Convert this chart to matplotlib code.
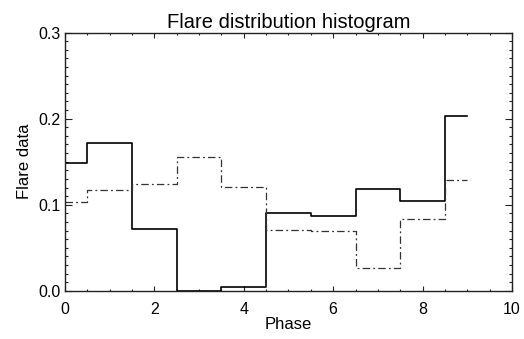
import numpy as np
import matplotlib
matplotlib.use('Agg')
import matplotlib.pyplot as plt
from matplotlib.ticker import MultipleLocator

# phase bins (centres) and the two flare distributions
phase = [0, 1, 2, 3, 4, 5, 6, 7, 8, 9]
flare_solid = [0.149, 0.172, 0.072, 0.0, 0.005, 0.090, 0.087, 0.118, 0.104, 0.203]
flare_dashdot = [0.103, 0.117, 0.124, 0.155, 0.121, 0.071, 0.070, 0.026, 0.084, 0.129]

plt.rcParams['font.family'] = ['Liberation Sans', 'DejaVu Sans']

fig = plt.figure(figsize=(5.24, 3.39), dpi=100)
ax = fig.add_axes([0.124, 0.142, 0.853, 0.762])

ax.step(phase, flare_solid, where='mid', color='black', lw=1.2)
ax.step(phase, flare_dashdot, where='mid', color='#333333', lw=0.9,
        dashes=(6, 2.5, 1.5, 2.5))

ax.set_xlim(0, 10)
ax.set_ylim(0, 0.3)
ax.xaxis.set_major_locator(MultipleLocator(2))
ax.xaxis.set_minor_locator(MultipleLocator(0.5))
ax.yaxis.set_major_locator(MultipleLocator(0.1))
ax.yaxis.set_minor_locator(MultipleLocator(0.01))
ax.yaxis.set_major_formatter(matplotlib.ticker.FormatStrFormatter('%.1f'))

ax.tick_params(axis='both', which='both', direction='in', top=True, right=True,
               width=0.8, colors='#222222', labelcolor='black', labelsize=11.5)
ax.tick_params(axis='x', which='major', length=3.3, pad=8)
ax.tick_params(axis='x', which='minor', length=1.7)
ax.tick_params(axis='y', which='major', length=5.0, pad=3)
ax.tick_params(axis='y', which='minor', length=2.5)
for s in ax.spines.values():
    s.set_linewidth(1.0)
    s.set_color('#222222')

ax.set_xlabel('Phase', fontsize=12, labelpad=0)
ax.set_ylabel('Flare data', fontsize=12, labelpad=5)
ax.set_title('Flare distribution histogram', fontsize=14.5, pad=3)

fig.savefig('out.png', dpi=100)
